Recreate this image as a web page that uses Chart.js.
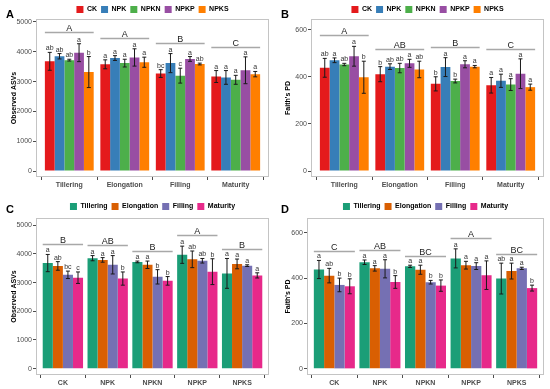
<!DOCTYPE html>
<html>
<head>
<meta charset="utf-8">
<script src="https://cdn.jsdelivr.net/npm/chart.js@4.4.1/dist/chart.umd.min.js"></script>
<style>
  html, body { margin: 0; padding: 0; background: #fff; }
  #wrap { position: relative; width: 550px; height: 389px; }
  canvas { position: absolute; }
</style>
</head>
<body>
<div id="wrap">
  <canvas id="chartA" width="275" height="195" style="left:0;top:0"></canvas>
  <canvas id="chartB" width="275" height="195" style="left:275px;top:0"></canvas>
  <canvas id="chartC" width="275" height="194" style="left:0;top:195px"></canvas>
  <canvas id="chartD" width="275" height="194" style="left:275px;top:195px"></canvas>
</div>
<script>
const stages = ['Tillering', 'Elongation', 'Filling', 'Maturity'];
const treatments = ['CK', 'NPK', 'NPKN', 'NPKP', 'NPKS'];

// Observed ASVs, mean per stage for each treatment
const asvCK   = [3680, 3580, 3270, 3170];
const asvNPK  = [3850, 3790, 3620, 3140];
const asvNPKN = [3720, 3620, 3200, 3060];
const asvNPKP = [3970, 3810, 3760, 3380];
const asvNPKS = [3320, 3650, 3590, 3250];
// Observed ASVs, error bar half-length
const asvErrCK   = [300, 150, 130, 200];
const asvErrNPK  = [90, 80, 320, 230];
const asvErrNPKN = [30, 130, 250, 150];
const asvErrNPKP = [300, 290, 80, 450];
const asvErrNPKS = [520, 170, 30, 90];

// Faith's PD, mean per stage for each treatment
const pdCK   = [438, 411, 370, 364];
const pdNPK  = [470, 443, 441, 383];
const pdNPKN = [452, 437, 382, 367];
const pdNPKP = [487, 457, 453, 413];
const pdNPKS = [398, 431, 443, 356];
const pdErrCK   = [40, 32, 30, 33];
const pdErrNPK  = [10, 12, 40, 28];
const pdErrNPKN = [5, 20, 8, 25];
const pdErrNPKP = [42, 17, 15, 63];
const pdErrNPKS = [68, 35, 5, 13];

// letters, panel A (treatments compared inside each stage)
const letA_CK   = ['ab', 'a', 'bc', 'a'];
const letA_NPK  = ['ab', 'a', 'a', 'a'];
const letA_NPKN = ['ab', 'a', 'c', 'a'];
const letA_NPKP = ['a', 'a', 'a', 'a'];
const letA_NPKS = ['b', 'a', 'ab', 'a'];
// letters, panel B
const letB_CK   = ['ab', 'b', 'b', 'a'];
const letB_NPK  = ['a', 'ab', 'a', 'a'];
const letB_NPKN = ['ab', 'ab', 'b', 'a'];
const letB_NPKP = ['a', 'a', 'a', 'a'];
const letB_NPKS = ['b', 'ab', 'a', 'a'];
// letters, panel C (stages compared inside each treatment)
const letC_Till = ['a', 'a', 'a', 'a', 'a'];
const letC_Elon = ['ab', 'a', 'a', 'ab', 'a'];
const letC_Fill = ['bc', 'a', 'b', 'ab', 'a'];
const letC_Matu = ['c', 'b', 'b', 'b', 'a'];
// letters, panel D
const letD_Till = ['a', 'a', 'a', 'a', 'ab'];
const letD_Elon = ['ab', 'a', 'a', 'a', 'a'];
const letD_Fill = ['b', 'a', 'b', 'a', 'a'];
const letD_Matu = ['b', 'b', 'b', 'a', 'b'];

// group letters over each cluster
const groupA = ['A', 'A', 'B', 'C'];
const groupB = ['A', 'AB', 'B', 'C'];
const groupC = ['B', 'AB', 'B', 'A', 'B'];
const groupD = ['C', 'AB', 'BC', 'A', 'BC'];

const asvTicks = [0, 1000, 2000, 3000, 4000, 5000];
const pdTicks = [0, 200, 400, 600];

const treatColors = ['#E41A1C', '#377EB8', '#4DAF4A', '#984EA3', '#FF7F00'];
const stageColors = ['#1B9E77', '#D95F02', '#7570B3', '#E7298A'];

const font = "'Liberation Sans', Arial, sans-serif";

// transpose helper: column j of a list of rows
const col = (rows, j) => rows.map(r => r[j]);

const decor = {
  id: 'decor',
  afterInit(chart) {
    const lg = chart.legend;
    const fit = lg.fit;
    lg.fit = function () {
      fit.call(this);
      this.height -= chart.options.plugins.decor.legendTrim;
    };
  },
  beforeDraw(chart) {
    // centre the legend over the panel, like ggplot does
    const a = chart.chartArea;
    chart.legend.left = a.left;
    chart.legend.right = a.right;
  },
  afterDatasetsDraw(chart, args, o) {
    const ctx = chart.ctx, y = chart.scales.y, a = chart.chartArea;
    const sets = chart.data.datasets;
    ctx.save();
    ctx.textAlign = 'center';
    ctx.textBaseline = 'alphabetic';
    sets.forEach((ds, di) => {
      chart.getDatasetMeta(di).data.forEach((bar, i) => {
        const v = ds.data[i].y, e = ds.err[i];
        const top = y.getPixelForValue(v + e), bot = y.getPixelForValue(v - e);
        ctx.strokeStyle = '#1a1a1a';
        ctx.lineWidth = 1;
        ctx.beginPath();
        ctx.moveTo(bar.x, top); ctx.lineTo(bar.x, bot);
        ctx.moveTo(bar.x - 2, top); ctx.lineTo(bar.x + 2, top);
        ctx.moveTo(bar.x - 2, bot); ctx.lineTo(bar.x + 2, bot);
        ctx.stroke();
        ctx.fillStyle = '#333';
        ctx.font = '7px ' + font;
        ctx.fillText(ds.letters[i], bar.x, top - 2);
      });
    });
    const last = sets.length - 1;
    o.groups.forEach((g, i) => {
      const b0 = chart.getDatasetMeta(0).data[i];
      const b1 = chart.getDatasetMeta(last).data[i];
      let hi = 0;
      sets.forEach(ds => { hi = Math.max(hi, ds.data[i].y + ds.err[i]); });
      const ly = Math.round(y.getPixelForValue(hi * 1.09)) + 0.5;
      ctx.strokeStyle = '#a8a8a8';
      ctx.lineWidth = 1.3;
      ctx.beginPath();
      ctx.moveTo(b0.x - b0.width / 2, ly);
      ctx.lineTo(b1.x + b1.width / 2, ly);
      ctx.stroke();
      ctx.fillStyle = '#222';
      ctx.font = '9px ' + font;
      ctx.fillText(g, (b0.x + b1.x) / 2, ly - 2);
    });
    ctx.strokeStyle = '#c4c4c4';
    ctx.lineWidth = 1;
    ctx.strokeRect(a.left + 0.5, a.top + 0.5, a.right - a.left - 1, a.bottom - a.top - 1);
    ctx.fillStyle = '#000';
    ctx.textAlign = 'left';
    ctx.font = 'bold 11px ' + font;
    ctx.fillText(o.tag, 6, 17.5);
    ctx.restore();
  }
};

function panel(id, cfg) {
  const n = cfg.cats.length;
  new Chart(document.getElementById(id), {
    type: 'bar',
    data: {
      datasets: cfg.names.map((name, k) => ({
        label: name,
        data: cfg.vals[k].map((v, i) => ({ x: i, y: v })),
        err: cfg.errs[k],
        letters: cfg.lets[k],
        backgroundColor: cfg.colors[k],
        borderWidth: 0,
        categoryPercentage: cfg.width,
        barPercentage: 1
      }))
    },
    options: {
      responsive: false,
      animation: false,
      events: [],
      layout: { padding: { top: cfg.padTop, right: 6, left: 0, bottom: 0 } },
      scales: {
        x: {
          type: 'linear',
          min: -0.6,
          max: n - 0.4,
          offset: false,
          afterBuildTicks: axis => { axis.ticks = cfg.cats.map((c, i) => ({ value: i })); },
          afterFit: s => { s.height = cfg.xHeight; },
          ticks: {
            callback: v => cfg.cats[v],
            font: { family: font, size: 7, weight: 'bold' },
            color: '#4d4d4d',
            padding: 1,
            autoSkip: false,
            maxRotation: 0
          },
          grid: { drawOnChartArea: false, tickLength: 3, color: '#4d4d4d' },
          border: { display: false }
        },
        y: {
          min: cfg.yMin,
          max: cfg.yMax,
          afterBuildTicks: axis => { axis.ticks = cfg.yTicks.map(v => ({ value: v })); },
          afterFit: s => { s.width = cfg.yWidth; },
          ticks: {
            callback: v => String(v),
            font: { family: font, size: 7 },
            color: '#4d4d4d',
            padding: 1
          },
          grid: { drawOnChartArea: false, tickLength: 3, color: '#4d4d4d' },
          border: { display: false },
          title: {
            display: true,
            text: cfg.yTitle,
            font: { family: font, size: 7, weight: 'bold' },
            color: '#000',
            padding: { top: cfg.titlePad, bottom: 0 }
          }
        }
      },
      plugins: {
        legend: {
          position: 'top',
          labels: {
            boxWidth: 7,
            boxHeight: 7,
            padding: 4,
            color: '#000',
            font: { family: font, size: 7, weight: 'bold' }
          }
        },
        tooltip: { enabled: false },
        decor: { tag: cfg.tag, groups: cfg.groups, legendTrim: cfg.legendTrim }
      }
    },
    plugins: [decor]
  });
}

const asvRows = [asvCK, asvNPK, asvNPKN, asvNPKP, asvNPKS];
const asvErrRows = [asvErrCK, asvErrNPK, asvErrNPKN, asvErrNPKP, asvErrNPKS];
const pdRows = [pdCK, pdNPK, pdNPKN, pdNPKP, pdNPKS];
const pdErrRows = [pdErrCK, pdErrNPK, pdErrNPKN, pdErrNPKP, pdErrNPKS];

panel('chartA', {
  tag: 'A', cats: stages, names: treatments, colors: treatColors,
  vals: asvRows, errs: asvErrRows,
  lets: [letA_CK, letA_NPK, letA_NPKN, letA_NPKP, letA_NPKS],
  groups: groupA, width: 0.88,
  yMin: -200, yMax: 5100, yTicks: asvTicks, yTitle: 'Observed ASVs',
  padTop: 2, legendTrim: 4, xHeight: 18, yWidth: 36, titlePad: 10
});

panel('chartB', {
  tag: 'B', cats: stages, names: treatments, colors: treatColors,
  vals: pdRows, errs: pdErrRows,
  lets: [letB_CK, letB_NPK, letB_NPKN, letB_NPKP, letB_NPKS],
  groups: groupB, width: 0.88,
  yMin: -25, yMax: 645, yTicks: pdTicks, yTitle: "Faith's PD",
  padTop: 2, legendTrim: 4, xHeight: 18, yWidth: 36, titlePad: 9
});

panel('chartC', {
  tag: 'C', cats: treatments, names: stages, colors: stageColors,
  vals: stages.map((s, j) => col(asvRows, j)),
  errs: stages.map((s, j) => col(asvErrRows, j)),
  lets: [letC_Till, letC_Elon, letC_Fill, letC_Matu],
  groups: groupC, width: 0.9,
  yMin: -220, yMax: 5250, yTicks: asvTicks, yTitle: 'Observed ASVs',
  padTop: 4, legendTrim: 2, xHeight: 14, yWidth: 36, titlePad: 10
});

panel('chartD', {
  tag: 'D', cats: treatments, names: stages, colors: stageColors,
  vals: stages.map((s, j) => col(pdRows, j)),
  errs: stages.map((s, j) => col(pdErrRows, j)),
  lets: [letD_Till, letD_Elon, letD_Fill, letD_Matu],
  groups: groupD, width: 0.9,
  yMin: -27, yMax: 665, yTicks: pdTicks, yTitle: "Faith's PD",
  padTop: 4, legendTrim: 2, xHeight: 14, yWidth: 32, titlePad: 9
});
</script>
</body>
</html>
